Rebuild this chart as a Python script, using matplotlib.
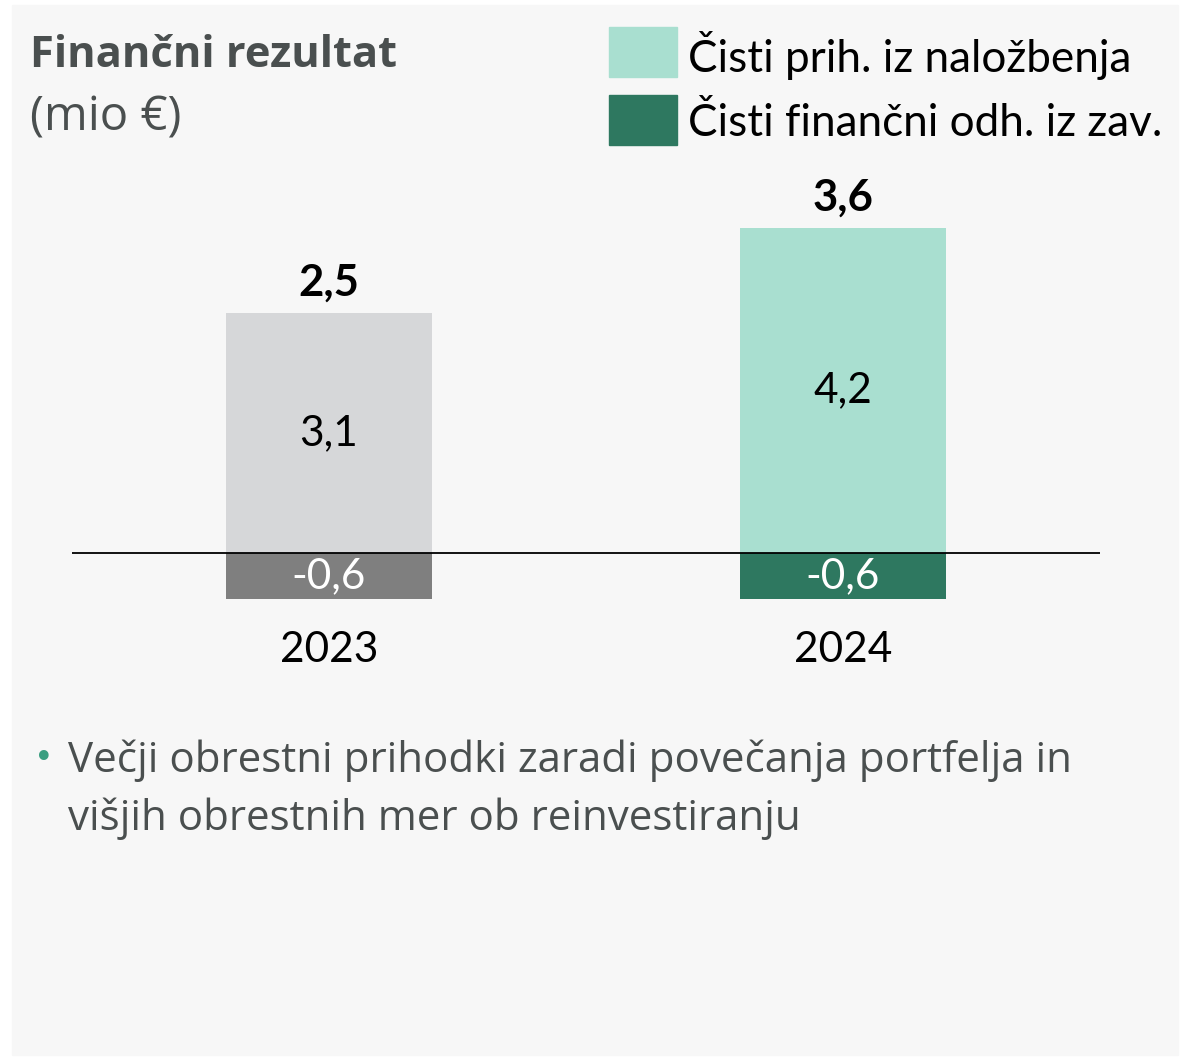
import matplotlib
matplotlib.use('Agg')
import matplotlib.pyplot as plt
from matplotlib import font_manager
from matplotlib.patches import Rectangle

years = ['2023', '2024']
income = [3.1, 4.2]
expense = [-0.6, -0.6]
totals = [2.5, 3.6]
legend_labels = ['Čisti prih. iz naložbenja', 'Čisti finančni odh. iz zav.']
title = 'Finančni rezultat'
unit = '(mio €)'
bullet_lines = ['Večji obrestni prihodki zaradi povečanja portfelja in',
                'višjih obrestnih mer ob reinvestiranju']

income_colors = ['#d6d7d9', '#a9dfd0']
expense_colors = ['#7f7f7f', '#2e7860']
legend_colors = ['#a9dfd0', '#2e7860']
grey_text = '#4a4f4f'

W, H = 1183, 1058


def pick(*names):
    avail = {f.name for f in font_manager.fontManager.ttflist}
    for n in names:
        if n in avail:
            return n
    return 'DejaVu Sans'


narrow = pick('Liberation Sans Narrow', 'Open Sans')
calibri = pick('Lato', 'Open Sans')


def fx(x):
    return x / W


def fy(y):
    return 1 - y / H


def fmt(v):
    return f'{v:.1f}'.replace('.', ',')


fig = plt.figure(figsize=(W / 100, H / 100), dpi=100)
fig.patch.set_facecolor('white')
fig.patches.append(Rectangle((fx(12), fy(1055)), fx(1178 - 12), (1055 - 5) / H,
                             transform=fig.transFigure, color='#f7f7f7', zorder=-10))

# chart area: zero line at y=553px, ~77.4 px per unit
ax = fig.add_axes([fx(72), fy(669), fx(1028), 6.5 * 77.4 / H])
ax.set_facecolor('none')
x = range(len(years))
ax.bar(x, income, width=0.4, color=income_colors)
ax.bar(x, expense, width=0.4, color=expense_colors)
ax.axhline(0, color='black', lw=1.3)
ax.set_xlim(-0.5, 1.5)
ax.set_ylim(-1.5, 5.0)
ax.axis('off')

for i in x:
    ax.text(i, income[i] / 2, fmt(income[i]), ha='center', va='center',
            fontsize=30.5, family=calibri, color='black')
    ax.text(i, expense[i] / 2, fmt(expense[i]), ha='center', va='center',
            fontsize=30.5, family=calibri, color='white')
    ax.annotate(fmt(totals[i]), (i, income[i]), xytext=(0, 22), textcoords='offset points',
                ha='center', va='center', fontsize=31.5, family=calibri, weight='bold')
    ax.annotate(years[i], (i, 0), xytext=(0, -70), textcoords='offset points',
                ha='center', va='center', fontsize=30.5, family=calibri)

# title
fig.text(fx(30), fy(67), title, fontsize=31.3, family=narrow, weight='bold',
         color=grey_text, va='baseline')
fig.text(fx(30), fy(130), unit, fontsize=34, family=narrow, color=grey_text, va='baseline')

# legend
for k, (lab, col) in enumerate(zip(legend_labels, legend_colors)):
    top = 27 + 68 * k
    fig.patches.append(Rectangle((fx(609), fy(top + 50)), fx(68), 50 / H,
                                 transform=fig.transFigure, color=col))
    fig.text(fx(688), fy(top + 29), lab, fontsize=31.7, family=calibri, va='center')

# bullet note
fig.text(fx(34), fy(759), '•', fontsize=24, color='#3a9e80', va='center')
for k, line in enumerate(bullet_lines):
    fig.text(fx(68), fy(761 + 58 * k), line, fontsize=30.3, family=narrow,
             color=grey_text, va='center')

fig.savefig('out.png', dpi=100)
